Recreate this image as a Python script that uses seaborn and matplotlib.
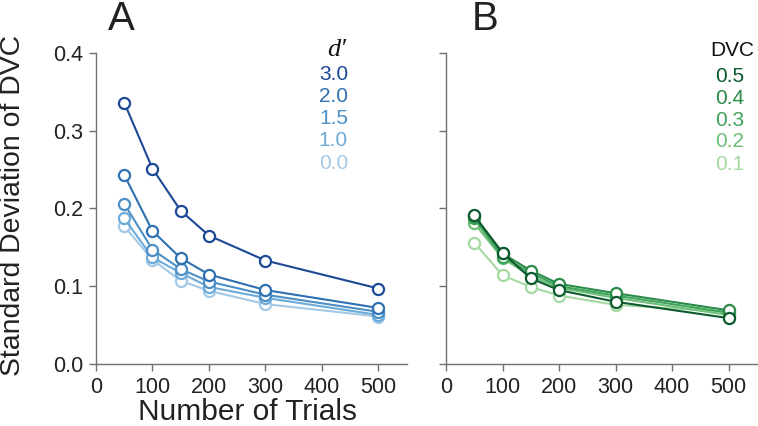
import numpy as np
import pandas as pd
import seaborn as sns
import matplotlib
matplotlib.use("Agg")
import matplotlib.pyplot as plt

# data
trials = [50, 100, 150, 200, 300, 500]

dprime_levels = ["3.0", "2.0", "1.5", "1.0", "0.0"]
sd_dprime = {
    "3.0": [0.336, 0.251, 0.197, 0.165, 0.133, 0.097],
    "2.0": [0.243, 0.171, 0.136, 0.115, 0.095, 0.072],
    "1.5": [0.206, 0.147, 0.122, 0.106, 0.089, 0.067],
    "1.0": [0.187, 0.137, 0.117, 0.099, 0.085, 0.063],
    "0.0": [0.177, 0.134, 0.107, 0.094, 0.077, 0.061],
}
blues = ["#1b4996", "#2f70b1", "#4b8fc6", "#6caad8", "#a3c9e7"]

dvc_levels = ["0.5", "0.4", "0.3", "0.2", "0.1"]
sd_dvc = {
    "0.5": [0.191, 0.143, 0.110, 0.095, 0.080, 0.059],
    "0.4": [0.190, 0.142, 0.120, 0.103, 0.091, 0.069],
    "0.3": [0.187, 0.138, 0.117, 0.100, 0.088, 0.066],
    "0.2": [0.181, 0.136, 0.113, 0.098, 0.085, 0.063],
    "0.1": [0.156, 0.114, 0.099, 0.088, 0.076, 0.067],
}
greens = ["#0c5a2e", "#2a8a48", "#3fa35b", "#6cbf76", "#a5d9a2"]

sns.set_style("ticks")
plt.rcParams['font.family'] = ['Liberation Sans', 'DejaVu Sans']

W, H = 758, 426
fig = plt.figure(figsize=(W / 100, H / 100), dpi=100)
axA = fig.add_axes([0.1266, 0.1455, 0.41, 0.7308])
axB = fig.add_axes([0.5884, 0.1455, 0.41, 0.7308])


def draw(ax, levels, sd, colors):
    # light first so darker lines sit on top
    for lev, c in reversed(list(zip(levels, colors))):
        df = pd.DataFrame({"trials": trials, "sd": sd[lev]})
        sns.lineplot(data=df, x="trials", y="sd", ax=ax, color=c, lw=1.5,
                     marker="o", ms=8, mfc="white", mec=c, mew=1.6)
    ax.set_xlim(0, 550)
    ax.set_ylim(0, 0.4)
    ax.set_xticks([0, 100, 200, 300, 400, 500])
    ax.set_yticks([0.0, 0.1, 0.2, 0.3, 0.4])
    sns.despine(ax=ax)
    for s in ["left", "bottom"]:
        ax.spines[s].set_color("#707070")
        ax.spines[s].set_linewidth(1.0)
    ax.tick_params(axis="both", direction="out", length=5, width=1.0,
                   color="#707070", labelsize=15.5, labelcolor="#222222", pad=4)
    ax.set_xlabel("")
    ax.set_ylabel("")


draw(axA, dprime_levels, sd_dprime, blues)
draw(axB, dvc_levels, sd_dvc, greens)

axA.set_yticklabels(["0.0", "0.1", "0.2", "0.3", "0.4"])
axB.set_yticklabels([])

# axis titles
fig.text(0 / W, 1 - 205 / H, "Standard Deviation of DVC", fontsize=20.4,
         rotation=90, ha="left", va="center", color="#222222")
fig.text(247.5 / W, 0.5 / H, "Number of Trials", fontsize=21.5,
         ha="center", va="bottom", color="#222222")

# panel letters
fig.text(108 / W, 1 - 30 / H, "A", fontsize=29, va="baseline", color="#222222")
fig.text(472 / W, 1 - 30 / H, "B", fontsize=29, va="baseline", color="#222222")

# inline legends
fig.text(337 / W, 1 - 50 / H, "d\u2032", fontsize=19, style="italic",
         family="Liberation Serif", ha="center", va="center", color="#111111")
for i, (lev, c) in enumerate(zip(dprime_levels, blues)):
    fig.text(348 / W, 1 - (75 + 22 * i) / H, lev, fontsize=15, color=c,
             ha="right", va="center")

fig.text(732 / W, 1 - 50 / H, "DVC", fontsize=15, ha="center", va="center",
         color="#111111")
for i, (lev, c) in enumerate(zip(dvc_levels, greens)):
    fig.text(744 / W, 1 - (76 + 22 * i) / H, lev, fontsize=15, color=c,
             ha="right", va="center")

fig.savefig("out.png", dpi=100)
